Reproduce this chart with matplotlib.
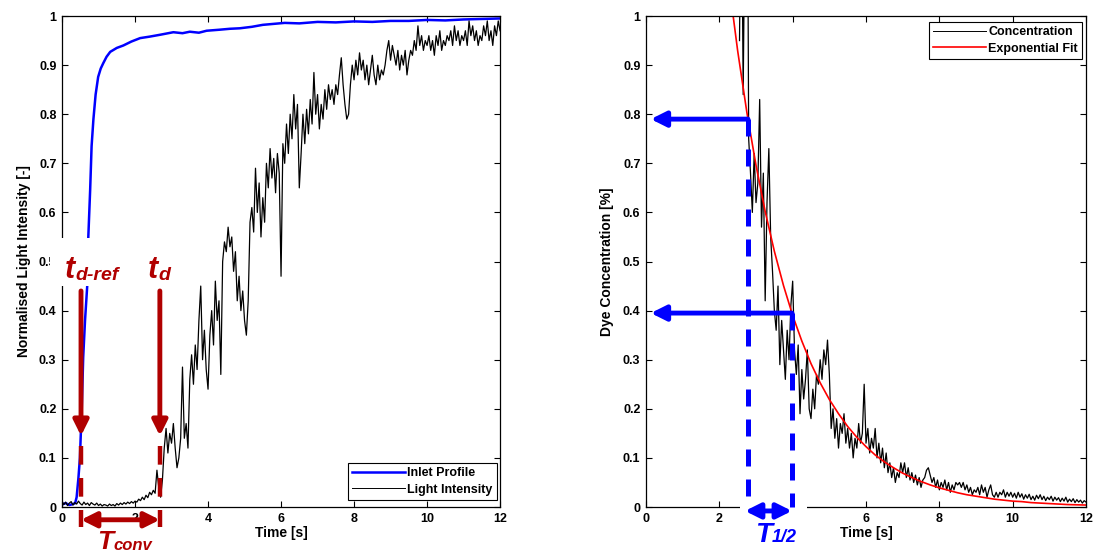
import numpy as np
import matplotlib
matplotlib.use('Agg')
from matplotlib import pyplot as plt
from matplotlib.patches import Rectangle

plt.rcParams['font.family'] = ['Liberation Sans', 'DejaVu Sans']
plt.rcParams['font.weight'] = 'bold'
plt.rcParams['axes.labelweight'] = 'bold'

# ---- left panel: inlet profile (blue), read at uneven times
inlet_t = [0, 0.1, 0.2, 0.3, 0.36, 0.40, 0.45, 0.49, 0.54, 0.58, 0.63, 0.69, 0.72, 0.77,
           0.81, 0.86, 0.92, 0.99, 1.06, 1.13, 1.22, 1.32, 1.5, 1.68, 1.9, 2.14, 2.4, 2.7,
           3.05, 3.3, 3.5, 3.75, 3.96, 4.3, 4.6, 4.87, 5.2, 5.5, 5.8, 6.1, 6.5, 7.0, 7.5,
           8.0, 8.5, 9.0, 9.5, 10.0, 10.5, 11.0, 11.5, 12.0]
inlet_v = [0.005, 0.008, 0.004, 0.006, 0.008, 0.02, 0.06, 0.10, 0.20, 0.305, 0.38, 0.45,
           0.55, 0.645, 0.735, 0.79, 0.84, 0.876, 0.893, 0.904, 0.917, 0.927, 0.935, 0.94,
           0.948, 0.955, 0.958, 0.962, 0.967, 0.965, 0.968, 0.966, 0.970, 0.972, 0.974,
           0.975, 0.978, 0.982, 0.984, 0.986, 0.985, 0.988, 0.987, 0.989, 0.988, 0.99,
           0.99, 0.992, 0.991, 0.993, 0.994, 0.995]

# ---- left panel: light intensity, one value every 0.05 s from 0 to 12 s
light_dt = 0.05
light_v = [
    0.012, 0.005, 0.010, 0.003, 0.008, 0.011, 0.004, 0.009, 0.006, 0.012,
    0.007, 0.004, 0.010, 0.005, 0.008, 0.003, 0.009, 0.006, 0.004, 0.008,  # 0-1 s
    0.003, 0.006, 0.002, 0.005, 0.004, 0.002, 0.006, 0.003, 0.005, 0.002,
    0.007, 0.004, 0.008, 0.005, 0.009, 0.006, 0.010, 0.007, 0.011, 0.008,  # 1-2 s
    0.012, 0.010, 0.016, 0.013, 0.020, 0.015, 0.024, 0.019, 0.030, 0.025,
    0.034, 0.028, 0.075, 0.040, 0.020, 0.055, 0.120, 0.160, 0.110, 0.150,  # 2-3 s
    0.13, 0.17, 0.12, 0.08, 0.10, 0.14, 0.285, 0.14, 0.17, 0.12,
    0.26, 0.31, 0.25, 0.33, 0.28, 0.38, 0.45, 0.30, 0.36, 0.28,  # 3-4 s
    0.24, 0.35, 0.40, 0.33, 0.46, 0.38, 0.42, 0.27, 0.50, 0.54,
    0.52, 0.57, 0.53, 0.55, 0.48, 0.52, 0.42, 0.47, 0.40, 0.44,  # 4-5 s
    0.38, 0.35, 0.42, 0.58, 0.61, 0.56, 0.69, 0.60, 0.66, 0.55,
    0.63, 0.58, 0.70, 0.65, 0.73, 0.67, 0.71, 0.64, 0.72, 0.68,  # 5-6 s
    0.47, 0.74, 0.70, 0.78, 0.72, 0.80, 0.75, 0.84, 0.77, 0.82,
    0.65, 0.72, 0.80, 0.74, 0.81, 0.76, 0.83, 0.78, 0.885, 0.80,  # 6-7 s
    0.84, 0.77, 0.82, 0.79, 0.85, 0.81, 0.86, 0.83, 0.85, 0.82,
    0.86, 0.84, 0.88, 0.915, 0.86, 0.82, 0.79, 0.80, 0.86, 0.90,  # 7-8 s
    0.87, 0.91, 0.88, 0.925, 0.89, 0.91, 0.87, 0.90, 0.86, 0.89,
    0.92, 0.88, 0.86, 0.90, 0.87, 0.89, 0.88, 0.90, 0.93, 0.95,  # 8-9 s
    0.91, 0.94, 0.92, 0.90, 0.93, 0.89, 0.92, 0.90, 0.93, 0.88,
    0.91, 0.93, 0.92, 0.95, 0.93, 0.98, 0.94, 0.96, 0.93, 0.95,  # 9-10 s
    0.94, 0.96, 0.93, 0.95, 0.92, 0.96, 0.94, 0.97, 0.93, 0.95,
    0.94, 0.96, 0.95, 0.97, 0.94, 0.98, 0.95, 0.97, 0.94, 0.96,  # 10-11 s
    0.95, 0.97, 0.94, 0.99, 0.96, 0.98, 0.95, 0.97, 0.94, 0.96,
    0.95, 0.98, 0.96, 0.99, 0.95, 0.97, 0.94, 0.98, 0.96, 0.99,  # 11-12 s
    0.97,
]

# ---- right panel: dye concentration, one value every 0.05 s from 2.55 s
conc_t0 = 2.55
conc_dt = 0.05
conc_v = [
    0.95, 1.35, 0.84, 1.25, 1.60, 0.75, 0.68, 0.60, 0.72, 0.62,
    0.66, 0.83, 0.57, 0.68, 0.42, 0.62, 0.73, 0.55, 0.48, 0.40,
    0.36, 0.45, 0.29, 0.38, 0.32, 0.26, 0.36, 0.30, 0.41, 0.46,
    0.32, 0.27, 0.33, 0.19, 0.28, 0.22, 0.26, 0.32, 0.20, 0.18,
    0.24, 0.20, 0.27, 0.25, 0.30, 0.26, 0.32, 0.29, 0.34, 0.27,
    0.16, 0.20, 0.14, 0.18, 0.12, 0.17, 0.15, 0.19, 0.13, 0.16,
    0.12, 0.15, 0.10, 0.14, 0.12, 0.17, 0.13, 0.15, 0.25, 0.13,
    0.16, 0.11, 0.14, 0.12, 0.16, 0.10, 0.13, 0.09, 0.12, 0.08,
    0.11, 0.07, 0.09, 0.06, 0.08, 0.05, 0.07, 0.06, 0.09, 0.07,
    0.09, 0.06, 0.08, 0.055, 0.07, 0.05, 0.065, 0.045, 0.06, 0.04,
    0.055, 0.06, 0.075, 0.08, 0.065, 0.05, 0.06, 0.04, 0.055, 0.035,
    0.05, 0.04, 0.055, 0.035, 0.05, 0.03, 0.045, 0.035, 0.05, 0.045,
    0.05, 0.04, 0.05, 0.035, 0.045, 0.03, 0.04, 0.025, 0.035, 0.03,
    0.04, 0.025, 0.045, 0.03, 0.04, 0.02, 0.035, 0.045, 0.025, 0.02,
    0.03, 0.02, 0.03, 0.025, 0.035, 0.02, 0.03, 0.022, 0.03, 0.02,
    0.028, 0.018, 0.03, 0.02, 0.027, 0.016, 0.025, 0.018, 0.026, 0.015,
    0.022, 0.014, 0.024, 0.017, 0.025, 0.015, 0.022, 0.013, 0.02, 0.015,
    0.022, 0.012, 0.02, 0.014, 0.019, 0.011, 0.018, 0.012, 0.02, 0.01,
    0.016, 0.011, 0.017, 0.009, 0.015, 0.01, 0.014, 0.008, 0.013, 0.01,
]

# ---- right panel: exponential fit, read every 0.25 s from 2.25 s
fit_t = [2.25, 2.5, 2.75, 3.0, 3.25, 3.5, 3.75, 4.0, 4.25, 4.5, 4.75, 5.0, 5.25, 5.5,
         5.75, 6.0, 6.25, 6.5, 6.75, 7.0, 7.25, 7.5, 7.75, 8.0, 8.25, 8.5, 8.75, 9.0,
         9.25, 9.5, 9.75, 10.0, 10.25, 10.5, 10.75, 11.0, 11.25, 11.5, 11.75, 12.0]
fit_v = [1.073, 0.929, 0.804, 0.696, 0.602, 0.521, 0.451, 0.390, 0.338, 0.292, 0.253,
         0.219, 0.190, 0.164, 0.142, 0.123, 0.106, 0.092, 0.080, 0.069, 0.060, 0.052,
         0.045, 0.039, 0.034, 0.029, 0.025, 0.022, 0.019, 0.016, 0.014, 0.012, 0.011,
         0.009, 0.008, 0.007, 0.006, 0.005, 0.0045, 0.004]

# annotation positions (s and normalised units)
t_dref = 0.52
t_d = 2.68
t_half_a, c_half_a = 2.78, 0.79
t_half_b, c_half_b = 3.98, 0.395

DARK_RED = '#B00000'
BLUE = '#0000FF'

xticks = [0, 2, 4, 6, 8, 10, 12]
yticks = [0, 0.1, 0.2, 0.3, 0.4, 0.5, 0.6, 0.7, 0.8, 0.9, 1]
ytick_labels = ['0', '0.1', '0.2', '0.3', '0.4', '0.5', '0.6', '0.7', '0.8', '0.9', '1']


def style_axes(ax):
    ax.set_xlim(0, 12)
    ax.set_ylim(0, 1)
    ax.set_xticks(xticks, [str(v) for v in xticks])
    ax.set_yticks(yticks, ytick_labels)
    ax.tick_params(direction='in', top=True, right=True, length=4, width=0.8,
                   labelsize=9, pad=4)
    for sp in ax.spines.values():
        sp.set_linewidth(0.9)


def sub_label(ax, x, y, main, sub, color, size, subsize):
    t = ax.text(x, y, main, color=color, fontsize=size, fontweight='bold',
                fontstyle='italic', ha='left', va='baseline', clip_on=False, zorder=7)
    ax.annotate(sub, xy=(1, 0), xycoords=t, xytext=(0, 1), textcoords='offset points',
                color=color, fontsize=subsize, fontweight='bold', fontstyle='italic',
                ha='left', va='bottom', annotation_clip=False, zorder=7)


def arrow(ax, tip, tail, color, style='-|>'):
    ax.annotate('', xy=tip, xytext=tail, annotation_clip=False, zorder=6,
                arrowprops=dict(arrowstyle=style + ',head_width=0.45,head_length=0.9',
                                lw=3.5, color=color, mutation_scale=10,
                                shrinkA=0, shrinkB=0))


def main():
    fig = plt.figure(figsize=(10.94, 5.56), dpi=100)
    ax1 = fig.add_axes([0.0567, 0.0881, 0.4004, 0.8831])
    ax2 = fig.add_axes([0.5905, 0.0881, 0.4022, 0.8831])

    # Left panel
    light_t = np.arange(len(light_v)) * light_dt
    ax1.plot(inlet_t, inlet_v, color=BLUE, lw=1.8, label='Inlet Profile')
    ax1.plot(light_t, light_v, color='black', lw=0.9, label='Light Intensity')
    style_axes(ax1)
    ax1.set_xlabel('Time [s]', fontsize=10, labelpad=1)
    ax1.set_ylabel('Normalised Light Intensity [-]', fontsize=10, labelpad=6)
    leg = ax1.legend(loc='lower right', bbox_to_anchor=(0.993, 0.014), fontsize=9,
                     fancybox=False, edgecolor='black', framealpha=1, handlelength=4.2,
                     borderaxespad=0, borderpad=0.35, labelspacing=0.35, handletextpad=0.2)
    leg.get_frame().set_linewidth(0.8)
    leg.get_lines()[1].set_linewidth(0.7)

    # white patch behind the t_d-ref label (hides spine and part of 0.5)
    ax1.add_patch(Rectangle((-0.027, 0.45), 0.16, 0.098, transform=ax1.transAxes,
                            facecolor='white', edgecolor='none', clip_on=False, zorder=5))
    sub_label(ax1, 0.08, 0.466, 't', 'd-ref', DARK_RED, 22, 14)
    sub_label(ax1, 2.36, 0.466, 't', 'd', DARK_RED, 22, 14)
    for tx in (t_dref, t_d):
        arrow(ax1, (tx, 0.145), (tx, 0.44), DARK_RED)
        ax1.plot([tx, tx], [0.125, -0.04], color=DARK_RED, lw=3.2,
                 linestyle=(0, (4.2, 3.0)), clip_on=False, zorder=6)
    arrow(ax1, (t_dref, -0.026), (t_d, -0.026), DARK_RED, style='<|-|>')
    sub_label(ax1, 0.96, -0.0855, 'T', 'conv', DARK_RED, 19, 12)

    # Right panel
    conc_t = conc_t0 + np.arange(len(conc_v)) * conc_dt
    ax2.plot(conc_t, conc_v, color='black', lw=0.9, label='Concentration')
    ax2.plot(fit_t, fit_v, color='red', lw=1.2, label='Exponential Fit')
    style_axes(ax2)
    ax2.set_xlabel('Time [s]', fontsize=10, labelpad=1)
    ax2.set_ylabel('Dye Concentration [%]', fontsize=10, labelpad=6)
    leg = ax2.legend(loc='upper right', bbox_to_anchor=(0.991, 0.988), fontsize=9,
                     fancybox=False, edgecolor='black', framealpha=1, handlelength=4.2,
                     borderaxespad=0, borderpad=0.35, labelspacing=0.35, handletextpad=0.2)
    leg.get_frame().set_linewidth(0.8)
    leg.get_lines()[0].set_linewidth(0.7)

    # white patch under the T_1/2 arrow (hides spine and the 4 label)
    ax2.add_patch(Rectangle((0.214, -0.06), 0.152, 0.062, transform=ax2.transAxes,
                            facecolor='white', edgecolor='none', clip_on=False, zorder=5))
    for tx, cy in ((t_half_a, c_half_a), (t_half_b, c_half_b)):
        arrow(ax2, (0.13, cy), (tx, cy), BLUE)
        ax2.plot([tx, tx], [cy, 0.0], color=BLUE, lw=3.6,
                 linestyle=(0, (3.4, 2.6)), clip_on=False, zorder=6)
    arrow(ax2, (t_half_a - 0.08, -0.008), (t_half_b, -0.008), BLUE, style='<|-|>')
    sub_label(ax2, 2.97, -0.071, 'T', '1/2', BLUE, 20, 13)

    fig.savefig('out.png', dpi=100)


if __name__ == '__main__':
    main()
